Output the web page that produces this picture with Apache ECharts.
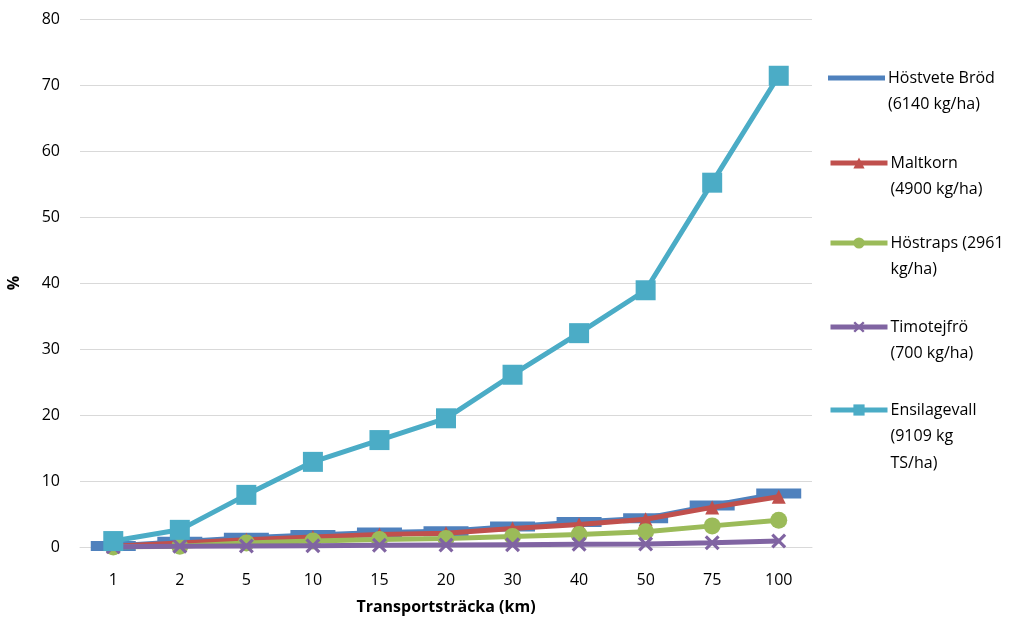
<!DOCTYPE html>
<html><head><meta charset="utf-8">
<script src="https://cdn.jsdelivr.net/npm/echarts@6/dist/echarts.min.js"></script>
<style>html,body{margin:0;padding:0;background:#fff}#c{width:1021px;height:619px}</style>
</head><body><div id="c"></div>
<script>
const categories = ['1','2','5','10','15','20','30','40','50','75','100'];
const seriesNames = ['Höstvete Bröd (6140 kg/ha)','Maltkorn (4900 kg/ha)','Höstraps (2961 kg/ha)','Timotejfrö (700 kg/ha)','Ensilagevall (9109 kg TS/ha)'];
const legendLines = [['Höstvete Bröd','(6140 kg/ha)'],['Maltkorn','(4900 kg/ha)'],['Höstraps (2961','kg/ha)'],['Timotejfrö','(700 kg/ha)'],['Ensilagevall','(9109 kg','TS/ha)']];
const hostvete = [0.15, 0.8, 1.4, 1.8, 2.2, 2.4, 3.1, 3.8, 4.35, 6.3, 8.1];
const maltkorn = [0.1, 0.6, 1.1, 1.5, 1.9, 2.1, 2.8, 3.4, 4.2, 6.0, 7.6];
const hostraps = [0, 0.1, 0.6, 0.9, 1.15, 1.3, 1.6, 1.9, 2.3, 3.2, 4.05];
const timotejfro = [0.05, 0.1, 0.15, 0.2, 0.25, 0.3, 0.35, 0.4, 0.45, 0.65, 0.9];
const ensilagevall = [0.9, 2.6, 7.9, 12.9, 16.2, 19.5, 26.1, 32.4, 38.9, 55.2, 71.4];
const yTicks = {min: 0, max: 80, interval: 10};

const colors = ['#4F81BD','#C0504D','#9BBB59','#8064A2','#4BACC6'];
const FONT = 'Open Sans';
const LH = 26.5;
const iconY = [78, 163, 243, 327, 410];

const chart = echarts.init(document.getElementById('c'));
const xPath = 'path://M0,1.5L1.5,0L5,3.5L8.5,0L10,1.5L6.5,5L10,8.5L8.5,10L5,6.5L1.5,10L0,8.5L3.5,5Z';
const seriesData = [hostvete, maltkorn, hostraps, timotejfro, ensilagevall];
const symbols = ['rect','triangle','circle',xPath,'rect'];
const symbolSizes = [[45,10],14,17,[15,15],20];

const legends = seriesNames.map((nm, i) => {
  const n = legendLines[i].length;
  const ih = 14;
  return {
    data: i === 0 ? [{name: nm, icon: 'rect'}] : [nm],
    orient: 'vertical',
    left: 828,
    top: iconY[i] - (2*n-1)*LH/2,
    padding: 0,
    itemWidth: 57,
    itemHeight: i === 0 ? 5 : ih,
    lineStyle: {width: 5},
    formatter: () => '\n'.repeat(n-1) + legendLines[i].join('\n'),
    textStyle: {fontFamily: FONT, fontSize: 16, color: '#000', lineHeight: LH, padding: [0,0,0,-2]}
  };
});

chart.setOption({
  animation: false,
  color: colors,
  textStyle: {fontFamily: FONT},
  grid: {left: 80, right: 209, top: 19, bottom: 72, containLabel: false, outerBoundsMode: 'none'},
  legend: legends,
  xAxis: {
    type: 'category', data: categories, boundaryGap: true,
    axisLine: {show: true, lineStyle: {color: '#d9d9d9', width: 1}},
    axisTick: {show: false},
    axisLabel: {fontFamily: FONT, fontSize: 16, color: '#000', margin: 25},
    name: 'Transportsträcka (km)', nameLocation: 'middle', nameGap: 52,
    nameTextStyle: {fontFamily: FONT, fontSize: 16, fontWeight: 'bold', color: '#000'}
  },
  yAxis: {
    type: 'value', min: yTicks.min, max: yTicks.max, interval: yTicks.interval,
    axisLine: {show: false}, axisTick: {show: false},
    splitLine: {lineStyle: {color: '#d9d9d9', width: 1}},
    axisLabel: {fontFamily: FONT, fontSize: 16, color: '#000', margin: 20},
    name: '%', nameLocation: 'middle', nameGap: 58, nameRotate: 90,
    nameTextStyle: {fontFamily: FONT, fontSize: 16, fontWeight: 'bold', color: '#000'}
  },
  series: seriesNames.map((nm, i) => ({
    name: nm, type: 'line', data: seriesData[i],
    symbol: symbols[i], symbolSize: symbolSizes[i], showSymbol: true,
    lineStyle: {width: 5, color: colors[i]},
    itemStyle: {color: colors[i]},
    z: 2 + i
  }))
});
</script></body></html>
